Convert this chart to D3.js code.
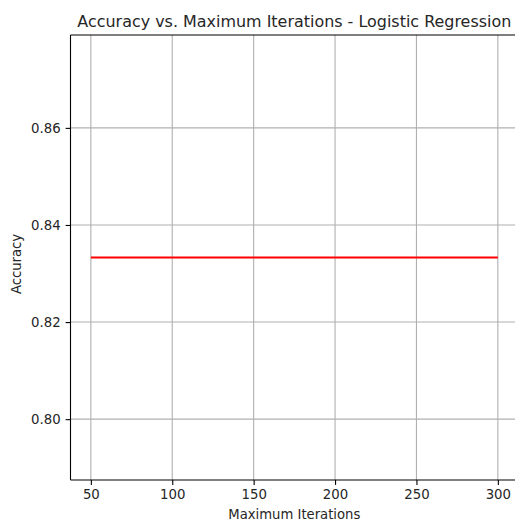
<!DOCTYPE html>
<html>
<head>
<meta charset="utf-8">
<script src="https://cdn.jsdelivr.net/npm/d3@7"></script>
<style>
  html, body { margin: 0; padding: 0; background: #fff; }
  svg { display: block; }
  text { font-family: "DejaVu Sans", sans-serif; fill: #262626; }
</style>
</head>
<body>
<div id="chart"></div>
<script>
// Logistic regression accuracy for each max_iter setting
const maxIterations = [50, 100, 150, 200, 250, 300];
const accuracy = [0.8333, 0.8333, 0.8333, 0.8333, 0.8333, 0.8333];
const xTickValues = [50, 100, 150, 200, 250, 300];
const yTickValues = [0.80, 0.82, 0.84, 0.86];

const W = 515, H = 521;
const plotLeft = 70.5, plotTop = 35, plotBottom = 480;
const pxPerUnit = 1.628;

// Matplotlib-style autoscaling: 5% margins, flat data expanded by 5% of value
const xMin = d3.min(maxIterations), xMax = d3.max(maxIterations);
const xPad = (xMax - xMin) * 0.05;
const xDomain = [xMin - xPad, xMax + xPad];
let yMin = d3.min(accuracy), yMax = d3.max(accuracy);
if (yMax - yMin < 1e-9) { yMin -= 0.05 * Math.abs(yMin); yMax += 0.05 * Math.abs(yMax); }
const yPad = (yMax - yMin) * 0.05;
const yDomain = [yMin - yPad, yMax + yPad];

const plotRight = plotLeft + (xDomain[1] - xDomain[0]) * pxPerUnit;
const x = d3.scaleLinear().domain(xDomain).range([plotLeft, plotRight]);
const y = d3.scaleLinear().domain(yDomain).range([plotBottom, plotTop]);

const svg = d3.select("#chart").append("svg")
  .attr("width", W).attr("height", H);

// grid lines
const grid = svg.append("g").attr("stroke", "#b0b0b0").attr("stroke-width", 1.1);
grid.selectAll("line.gx").data(xTickValues).join("line")
  .attr("class", "gx")
  .attr("x1", d => x(d)).attr("x2", d => x(d))
  .attr("y1", plotTop).attr("y2", plotBottom);
grid.selectAll("line.gy").data(yTickValues).join("line")
  .attr("class", "gy")
  .attr("x1", plotLeft).attr("x2", plotRight)
  .attr("y1", d => y(d)).attr("y2", d => y(d));

// accuracy line
const line = d3.line().x((d, i) => x(maxIterations[i])).y(d => y(d));
svg.append("path").datum(accuracy)
  .attr("d", line)
  .attr("fill", "none")
  .attr("stroke", "#ff0000")
  .attr("stroke-width", 2.1);

// axes
const xAxis = d3.axisBottom(x).tickValues(xTickValues).tickSize(4.9).tickPadding(4.9);
const yAxis = d3.axisLeft(y).tickValues(yTickValues).tickSize(4.9).tickPadding(4.9)
  .tickFormat(d3.format(".2f"));

const gx = svg.append("g").attr("transform", `translate(0,${plotBottom})`).call(xAxis);
const gy = svg.append("g").attr("transform", `translate(${plotLeft},0)`).call(yAxis);
[gx, gy].forEach(g => {
  g.select(".domain").remove();
  g.selectAll(".tick line").attr("stroke", "#000").attr("stroke-width", 1.1);
  g.selectAll(".tick text").attr("font-size", "13.3px")
    .attr("font-family", "DejaVu Sans, sans-serif").attr("fill", "#262626");
});

// spines
const spines = svg.append("g").attr("stroke", "#000").attr("stroke-width", 1.1).attr("fill", "none");
spines.append("line").attr("x1", plotLeft).attr("x2", plotLeft).attr("y1", plotTop).attr("y2", plotBottom);
spines.append("line").attr("x1", plotLeft).attr("x2", plotRight).attr("y1", plotBottom).attr("y2", plotBottom);
spines.append("line").attr("x1", plotLeft).attr("x2", plotRight).attr("y1", plotTop).attr("y2", plotTop);
spines.append("line").attr("x1", plotRight).attr("x2", plotRight).attr("y1", plotTop).attr("y2", plotBottom);

// title and axis labels
const cx = (plotLeft + plotRight) / 2;
svg.append("text").attr("x", cx).attr("y", 27)
  .attr("text-anchor", "middle").attr("font-size", "15.95px")
  .text("Accuracy vs. Maximum Iterations - Logistic Regression");
svg.append("text").attr("x", cx).attr("y", 519)
  .attr("text-anchor", "middle").attr("font-size", "13.2px")
  .text("Maximum Iterations");
svg.append("text")
  .attr("transform", `translate(21,264) rotate(-90)`)
  .attr("text-anchor", "middle").attr("font-size", "13.2px")
  .text("Accuracy");
</script>
</body>
</html>
